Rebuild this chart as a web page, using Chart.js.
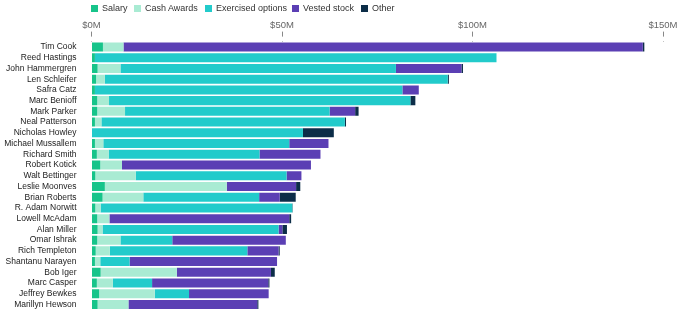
<!DOCTYPE html>
<html>
<head>
<meta charset="utf-8">
<script src="https://cdn.jsdelivr.net/npm/chart.js@4"></script>
<style>
  body { margin: 0; background: #fff; }
  #wrap { position: relative; width: 700px; height: 322px; }
  #legend { position: absolute; left: 91px; top: 3px; font: 9px "Liberation Sans", Arial, sans-serif; color: #333; white-space: nowrap; }
  #legend span.item { display: inline-block; }
  #legend span.box { display: inline-block; width: 7px; height: 7px; margin-right: 4px; vertical-align: -1px; }
</style>
</head>
<body>
<div id="wrap">
  <canvas id="chart" width="700" height="322"></canvas>
  <div id="legend"></div>
</div>
<script>
// executives, top to bottom
let names = [
  "Tim Cook", "Reed Hastings", "John Hammergren", "Len Schleifer", "Safra Catz",
  "Marc Benioff", "Mark Parker", "Neal Patterson", "Nicholas Howley", "Michael Mussallem",
  "Richard Smith", "Robert Kotick", "Walt Bettinger", "Leslie Moonves", "Brian Roberts",
  "R. Adam Norwitt", "Lowell McAdam", "Alan Miller", "Omar Ishrak", "Rich Templeton",
  "Shantanu Narayen", "Bob Iger", "Marc Casper", "Jeffrey Bewkes", "Marillyn Hewson"
];

// values in $M
let salary    = [3.0, 0.9, 1.6, 1.2, 0.9, 1.5, 1.5, 0.9, 0.0, 0.9, 1.4, 2.3, 1.0, 3.5, 2.9, 1.0, 1.5, 1.6, 1.5, 1.1, 0.9, 2.4, 1.4, 2.0, 1.6];
let cash      = [5.4, 0.0, 6.0, 2.3, 0.0, 3.1, 7.3, 1.7, 0.0, 2.2, 3.1, 5.7, 10.6, 32.0, 10.7, 1.4, 3.2, 1.3, 6.1, 3.7, 1.4, 20.0, 4.2, 14.6, 8.1];
let exercised = [0.0, 105.4, 72.3, 90.0, 80.7, 79.1, 53.7, 63.9, 55.5, 48.8, 39.6, 0.0, 39.6, 0.0, 30.4, 50.3, 0.0, 46.2, 13.6, 36.1, 7.7, 0.0, 10.3, 9.0, 0.0];
let vested    = [136.3, 0.0, 17.2, 0.0, 4.3, 0.0, 6.7, 0.0, 0.0, 10.3, 16.0, 49.6, 3.9, 18.2, 5.4, 0.0, 47.2, 1.0, 29.8, 8.2, 38.7, 24.7, 30.5, 20.9, 33.8];
let other     = [0.4, 0.0, 0.4, 0.3, 0.0, 1.3, 0.9, 0.3, 8.1, 0.0, 0.0, 0.0, 0.0, 1.1, 4.2, 0.1, 0.5, 1.2, 0.0, 0.3, 0.0, 1.0, 0.3, 0.0, 0.3];

let seriesNames = ["Salary", "Cash Awards", "Exercised options", "Vested stock", "Other"];
let xTicks = [0, 50, 100, 150];

let colors = ["#17c48a", "#a9ebd3", "#22cbcb", "#5b3fb4", "#0c2d48"];
let legendWidths = [43, 71, 87, 69, 40];
let series = [salary, cash, exercised, vested, other];

// legend as html so it can sit over the plot start
let legend = document.getElementById("legend");
seriesNames.forEach(function(n, i) {
  legend.innerHTML += '<span class="item" style="width:' + legendWidths[i] + 'px"><span class="box" style="background:' + colors[i] + '"></span>' + n + '</span>';
});

let ctx = document.getElementById("chart");
let chart = new Chart(ctx, {
  type: "bar",
  data: {
    labels: names,
    datasets: series.map(function(d, i) {
      return {
        label: seriesNames[i],
        data: d,
        backgroundColor: colors[i],
        borderWidth: 0,
        categoryPercentage: 1,
        barPercentage: 0.84
      };
    })
  },
  options: {
    indexAxis: "y",
    responsive: false,
    animation: false,
    layout: { padding: { top: 10, left: 0, right: 37, bottom: 11 } },
    plugins: {
      legend: { display: false },
      tooltip: { enabled: false }
    },
    scales: {
      x: {
        position: "top",
        stacked: true,
        min: 0,
        max: 150,
        afterBuildTicks: function(s) { s.ticks = xTicks.map(function(v) { return { value: v }; }); },
        afterFit: function(s) { s.height = 31.6; },
        border: { display: false },
        grid: {
          drawOnChartArea: false,
          tickLength: 10,
          tickBorderDash: [5, 5],
          tickColor: "#888",
          tickWidth: 1
        },
        ticks: {
          padding: 1,
          color: "#666",
          font: { family: "Liberation Sans", size: 9.5 },
          maxRotation: 0,
          callback: function(v) { return "$" + v + "M"; }
        }
      },
      y: {
        stacked: true,
        afterFit: function(s) { s.width = 91.5; },
        border: { display: false },
        grid: { display: false },
        ticks: {
          padding: 7,
          color: "#222",
          autoSkip: false,
          font: { family: "Liberation Sans", size: 8.5 }
        }
      }
    }
  }
});
</script>
</body>
</html>
